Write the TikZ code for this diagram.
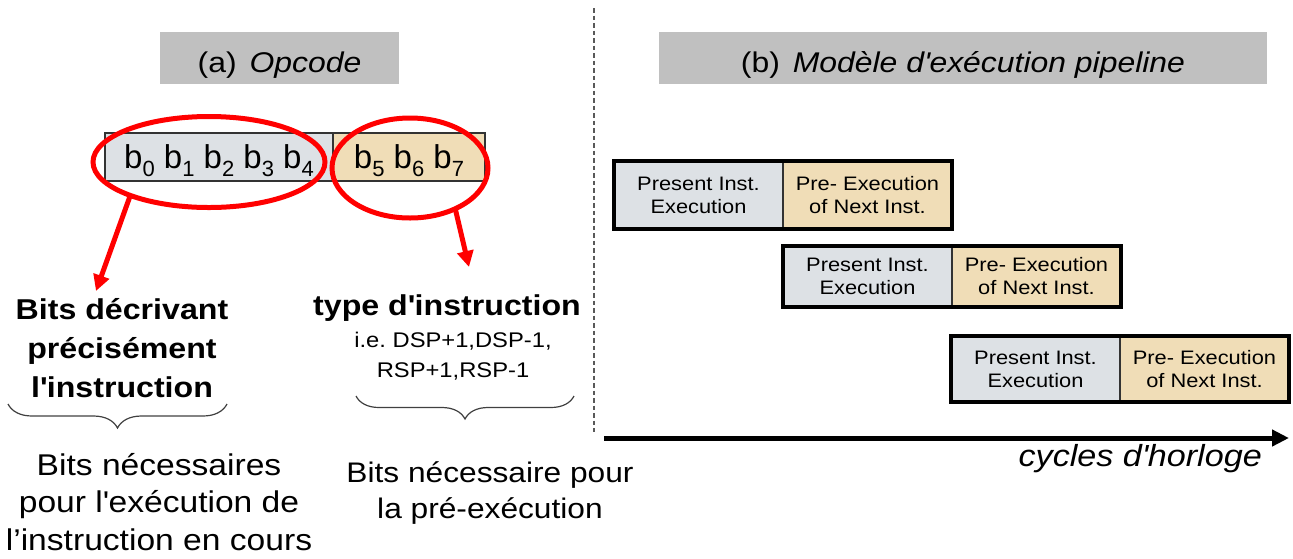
\documentclass[tikz,border=0pt]{standalone}
\usepackage{fontspec}
\setmainfont{Liberation Sans}[FakeStretch=1.12]
\newfontfamily\barfont{Liberation Sans}
\usetikzlibrary{shapes.geometric,arrows.meta,decorations.pathreplacing}

\definecolor{marble}{RGB}{221,225,229}
\definecolor{sand}{RGB}{240,221,183}
\definecolor{titlegray}{RGB}{192,192,192}

\newcommand{\fsz}[2]{\fontsize{#1}{#2}\selectfont}
\newcommand{\bsub}[1]{b\raisebox{-8pt}{\fontsize{22}{22}\selectfont #1}}
\newcommand{\apo}{\textquotesingle}

\begin{document}
\begin{tikzpicture}[x=1pt,y=-1pt,
  titlebox/.style={fill=titlegray, inner sep=0pt, text height=28pt, text depth=0pt, font=\fsz{28.5}{34}},
  bitcell/.style={draw=black!80, line width=1.3pt, inner sep=0pt, minimum height=48pt, text depth=0pt, font=\barfont\fsz{33}{40}},
  cell/.style={inner sep=0pt, outer sep=0pt, minimum width=169pt, align=center, font=\fsz{19.5}{23}},
  redring/.style={draw=red, line width=5pt, ellipse, inner sep=0pt, outer sep=0pt},
  redarrow/.style={draw=red, line width=5pt, -{Triangle[length=16pt,width=16pt]}},
  bracelabel/.style={decorate, decoration={brace, amplitude=#1}, draw=black!75, line width=1.2pt}
]
\useasboundingbox (0,0) rectangle (1293,558);

% === Left: (a) Opcode ===
\node[titlebox, minimum width=239pt, minimum height=52pt] (titleA) at (279.5,58) {(a)\hspace{0.45em}\textit{Opcode}};

% opcode word
\node[bitcell, fill=marble, minimum width=228pt] (bitsL) at (219,157) {\bsub{0} \bsub{1} \bsub{2} \bsub{3} \bsub{4}};
\node[bitcell, fill=sand, minimum width=152pt] (bitsR) at (409,157) {\bsub{5} \bsub{6} \bsub{7}};

% red rings
\node[redring, minimum width=232pt, minimum height=91pt] (ringL) at (209,162) {};
\node[redring, minimum width=156pt, minimum height=100pt] (ringR) at (410,168) {};

% labels
\node[align=center, font=\bfseries\fsz{28.7}{39}, inner sep=0pt] (descL) at (122,348) {Bits décrivant\\précisément\\l\apo instruction};
\node[font=\bfseries\fsz{28.7}{34}, inner sep=0pt, anchor=base] (typeL) at (447,315) {type d\apo instruction};
\node[align=center, font=\fsz{21.2}{30}, inner sep=0pt] (ieL) at (453,356) {i.e.\ DSP+1,DSP-1,\\RSP+1,RSP-1};

\coordinate (tipL) at (96,291);
\coordinate (tipR) at (469,267);
\draw[redarrow] (ringL.203) -- (tipL);
\draw[redarrow] (ringR.318) -- (tipR);

% braces
\coordinate (brL1) at (8,404);
\coordinate (brL2) at (227,404);
\coordinate (brR1) at (356,396);
\coordinate (brR2) at (574,396);
\draw[bracelabel=24pt] (brL2) -- (brL1);
\draw[bracelabel=23pt] (brR2) -- (brR1);

\node[align=center, font=\fsz{30}{37.5}, inner sep=0pt] (needL) at (159,502) {Bits nécessaires\\pour l\apo exécution de\\l’instruction en cours};
\node[align=center, font=\fsz{28.3}{36}, inner sep=0pt] (needR) at (490,493) {Bits nécessaire pour\\la pré-exécution};

% === Separator ===
\coordinate (sepTop) at (594,8);
\coordinate (sepBot) at (594,432);
\draw[black!65, line width=1.2pt, dash pattern=on 4.5pt off 3pt] (sepTop) -- (sepBot);

% === Right: (b) pipeline ===
\node[titlebox, minimum width=608pt, minimum height=52pt] (titleB) at (963,58) {(b)\hspace{0.45em}\textit{Modèle d\apo exécution pipeline}};

\foreach \i/\xa/\ya/\yb in {1/614/161/229, 2/783/246/307, 3/951/336/402} {
  \pgfmathsetmacro{\h}{\yb-\ya}
  \pgfmathsetmacro{\ym}{(\ya+\yb)/2}
  \node[cell, fill=marble, minimum height=\h pt, anchor=west] (cur\i) at (\xa,\ym) {Present Inst.\\Execution};
  \node[cell, fill=sand, minimum height=\h pt, anchor=west] (pre\i) at (cur\i.east) {Pre- Execution\\of Next Inst.};
  \draw[black!80, line width=1.3pt] (cur\i.north east) -- (cur\i.south east);
  \draw[line width=4pt] (cur\i.north west) rectangle (pre\i.south east);
}

% clock axis
\coordinate (clk0) at (604,438);
\coordinate (clk1) at (1289,438);
\draw[line width=5pt, -{Triangle[length=17pt,width=16pt]}] (clk0) -- (clk1);
\node[font=\itshape\fsz{30.5}{36}, anchor=base east, inner sep=0pt] (clkL) at (1262,466) {cycles d\apo horloge};

\end{tikzpicture}
\end{document}
